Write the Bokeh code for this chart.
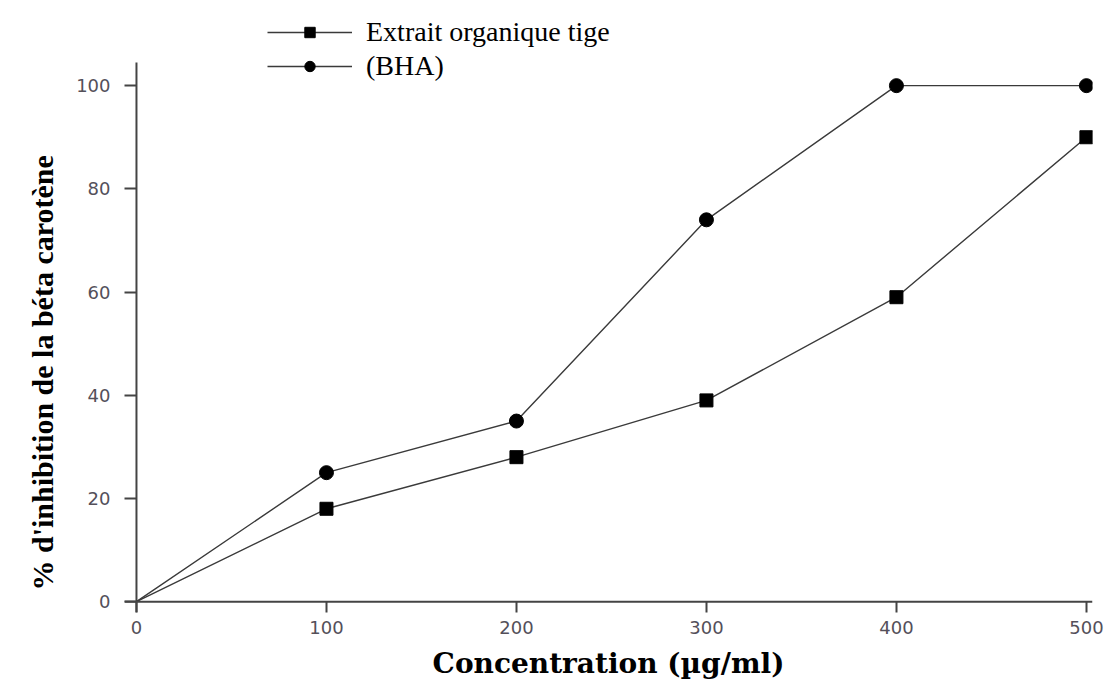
from bokeh.plotting import figure
from bokeh.models import Range1d, Legend, LegendItem, FixedTicker, Span, Title
from bokeh.embed import file_html
from bokeh.resources import INLINE

# Concentrations (µg/ml) and % inhibition of beta-carotene bleaching
concentration = [0, 100, 200, 300, 400, 500]
extrait_tige = [0, 18, 28, 39, 59, 90]
bha = [0, 25, 35, 74, 100, 100]
x_ticks = [0, 100, 200, 300, 400, 500]
y_ticks = [0, 20, 40, 60, 80, 100]

# vertical extent of the drawn y axis line (a little past 0 and 100)
Y_AXIS_LOW, Y_AXIS_HIGH = -2.1, 104.5

p = figure(
    width=1107, height=686,
    x_range=Range1d(-6.3, 503.2), y_range=Range1d(-2.1, 116.5),
    output_backend="svg", toolbar_location=None,
    min_border_left=124, min_border_right=15,
    min_border_top=0, min_border_bottom=74,
)
p.outline_line_color = None
p.grid.visible = False
p.background_fill_color = "white"
p.border_fill_color = "white"

axis_col = "#444444"
# x axis line through y = 0, y axis line through x = 0
p.add_layout(Span(location=0, dimension="width", line_color=axis_col, line_width=2))
p.segment(x0=[0], y0=[Y_AXIS_LOW], x1=[0], y1=[Y_AXIS_HIGH],
          line_color=axis_col, line_width=2)

line_col = "#3a3a3a"
l1 = p.line(concentration, extrait_tige, line_color=line_col, line_width=1.4)
m1 = p.scatter(concentration[1:], extrait_tige[1:], marker="square", size=13,
               fill_color="black", line_color="black")
l2 = p.line(concentration, bha, line_color=line_col, line_width=1.4)
m2 = p.scatter(concentration[1:], bha[1:], marker="circle", size=14,
               fill_color="black", line_color="black")

for ax in (p.xaxis[0], p.yaxis[0]):
    ax.axis_line_color = None
    ax.major_tick_line_color = axis_col
    ax.major_tick_line_width = 2
    ax.minor_tick_line_color = None
    ax.major_label_text_font = "DejaVu Sans"
    ax.major_label_text_font_size = "18px"
    ax.major_label_text_color = "#54505a"

p.xaxis.ticker = FixedTicker(ticks=x_ticks)
p.yaxis.ticker = FixedTicker(ticks=y_ticks)
p.xaxis.major_tick_in = 11
p.xaxis.major_tick_out = 0
p.yaxis.major_tick_in = 12
p.yaxis.major_tick_out = 0
p.xaxis.major_label_standoff = 8
p.yaxis.major_label_standoff = 14

p.xaxis.axis_label = "Concentration (µg/ml)"
p.xaxis.axis_label_text_font = "DejaVu Serif"
p.xaxis.axis_label_text_font_style = "bold"
p.xaxis.axis_label_text_font_size = "28px"
p.xaxis.axis_label_text_color = "black"
p.xaxis.axis_label_standoff = 10

# y axis title, anchored near the bottom of the axis
ytitle = Title(
    text="% d'inhibition de la béta carotène", align="left", offset=22,
    text_font="Liberation Serif", text_font_style="bold",
    text_font_size="30px", text_color="black", standoff=30,
)
p.add_layout(ytitle, "left")

legend = Legend(
    items=[
        LegendItem(label="Extrait organique tige", renderers=[l1, m1]),
        LegendItem(label="(BHA)", renderers=[l2, m2]),
    ],
    location=(143, 530),
    glyph_width=85, glyph_height=26, spacing=2,
    label_standoff=14, padding=4, margin=0,
    label_text_font="Liberation Serif", label_text_font_size="28px",
    label_text_color="black",
    border_line_color=None, background_fill_alpha=0,
)
p.add_layout(legend, "center")

open("out.html", "w").write(file_html(p, INLINE))
